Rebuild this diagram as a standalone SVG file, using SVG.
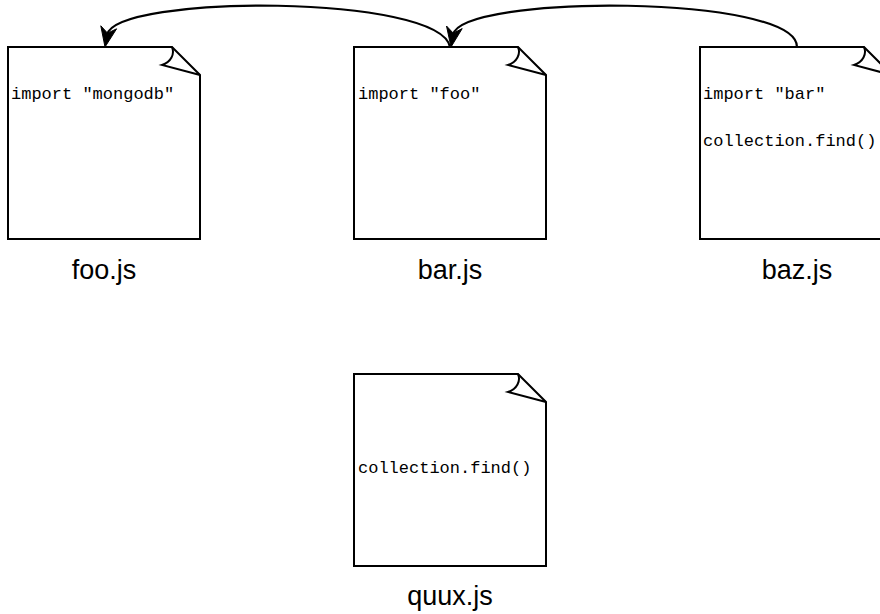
<svg xmlns="http://www.w3.org/2000/svg" width="880" height="614" viewBox="0 0 880 614">
  <style>
    .page { fill: #ffffff; stroke: #000000; stroke-width: 2; stroke-linejoin: miter; }
    .curl { fill: none; stroke: #000000; stroke-width: 2; }
    .code { font-family: "Liberation Mono", "Courier New", monospace; font-size: 17px; fill: #000000; }
    .name { font-family: "Liberation Sans", Arial, sans-serif; font-size: 27px; fill: #000000; text-anchor: middle; }
    .link { fill: none; stroke: #000000; stroke-width: 2.2; }
    .head { fill: #000000; stroke: #000000; stroke-width: 1; stroke-linejoin: miter; }
  </style>
  <defs>
    <!-- folded page, 192 x 192, origin top-left -->
    <g id="page">
      <path class="page" d="M0,0 L164,0 L192,28 L192,192 L0,192 Z"/>
      <path class="curl" d="M164,0 C167,7 163,15 154,18 L192,28"/>
    </g>
  </defs>

  <rect width="880" height="614" fill="#ffffff"/>

  <g id="connectors">
    <!-- baz.js -> bar.js -->
    <path class="link" d="M797,47 C797,-6 460,-6 453,35"/>
    <path class="head" d="M451,47 L462.2,28.6 L453.3,33.2 L446.5,26 Z"/>
    <!-- bar.js -> foo.js -->
    <path class="link" d="M450,47 C440,-6 115,-6 107,35"/>
    <path class="head" d="M105,47 L116.6,28.8 L107.6,33.2 L100.8,25.8 Z"/>
  </g>

  <g id="foo">
    <use href="#page" x="8" y="47"/>
    <text class="code" x="11" y="99">import "mongodb"</text>
    <text class="name" x="104" y="279">foo.js</text>
  </g>

  <g id="bar">
    <use href="#page" x="354" y="47"/>
    <text class="code" x="358" y="99">import "foo"</text>
    <text class="name" x="450" y="279">bar.js</text>
  </g>

  <g id="baz">
    <use href="#page" x="700" y="47"/>
    <text class="code" x="703" y="99">import "bar"</text>
    <text class="code" x="703" y="146">collection.find()</text>
    <text class="name" x="797" y="279">baz.js</text>
  </g>

  <g id="quux">
    <use href="#page" x="354" y="374"/>
    <text class="code" x="358" y="473">collection.find()</text>
    <text class="name" x="450" y="605">quux.js</text>
  </g>
</svg>
